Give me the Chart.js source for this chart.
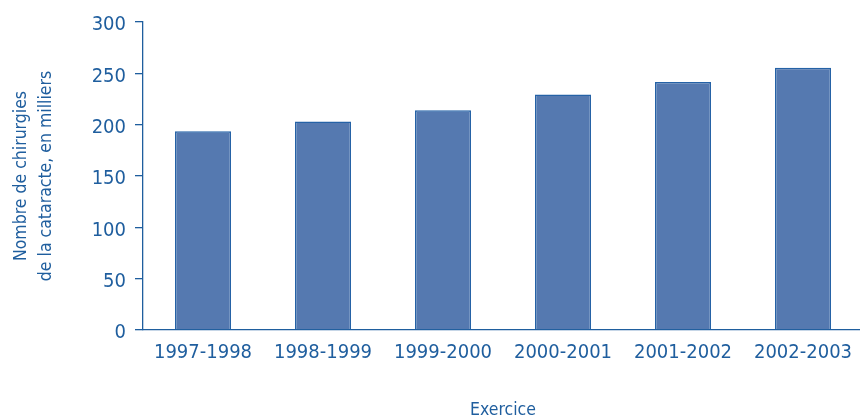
<!DOCTYPE html>
<html>
<head>
<meta charset="utf-8">
<script src="https://cdn.jsdelivr.net/npm/chart.js@4/dist/chart.umd.min.js"></script>
<style>
  html, body { margin: 0; padding: 0; background: #fff; overflow: hidden; }
  #wrap { width: 860px; height: 419px; overflow: hidden; }
  #wrap canvas { display: block; }
</style>
</head>
<body>
<div id="wrap"><canvas id="myChart" width="870" height="419"></canvas></div>
<script>
const exercices = ['1997-1998', '1998-1999', '1999-2000', '2000-2001', '2001-2002', '2002-2003'];
const chirurgies = [193.5, 203, 214, 229.5, 241.5, 255.5]; // en milliers
const yTitle = ['Nombre de chirurgies', 'de la cataracte, en milliers'];
const xTitle = 'Exercice';

const blue = '#1f5e9e';
const family = "'Liberation Sans Narrow', 'DejaVu Sans Condensed', 'Liberation Sans', sans-serif";
const tickFont = { family: family, size: 20 };
const titleFont = { family: family, size: 17.5, lineHeight: 1.43 };

let ctx = document.getElementById('myChart').getContext('2d');
let myChart = new Chart(ctx, {
  type: 'bar',
  data: {
    labels: exercices,
    datasets: [{
      data: chirurgies,
      backgroundColor: '#5579b0',
      borderColor: '#2562a6',
      borderWidth: 1.5,
      barPercentage: 0.467,
      categoryPercentage: 1
    }]
  },
  options: {
    responsive: false,
    animation: false,
    layout: { padding: { top: 22, right: 7, left: 0, bottom: 0 } },
    plugins: {
      legend: { display: false },
      tooltip: { enabled: false }
    },
    scales: {
      x: {
        grid: { display: false },
        border: { color: blue, width: 1.3 },
        ticks: { color: blue, font: tickFont, padding: 3, maxRotation: 0 },
        title: { display: true, text: xTitle, color: blue, font: { family: family, size: 17.5 }, padding: { top: 0, bottom: -2 } },
        afterFit: (scale) => { scale.height = 89; }
      },
      y: {
        min: 0,
        max: 300,
        ticks: { stepSize: 50, color: blue, font: tickFont, padding: 9, labelOffset: 3 },
        grid: { drawOnChartArea: false, tickLength: 8, color: blue, lineWidth: 1.3 },
        border: { color: blue, width: 1.3 },
        title: { display: true, text: yTitle, color: blue, font: titleFont, padding: { top: 9, bottom: 0 } },
        afterFit: (scale) => { scale.width = 143; }
      }
    }
  }
});
</script>
</body>
</html>
